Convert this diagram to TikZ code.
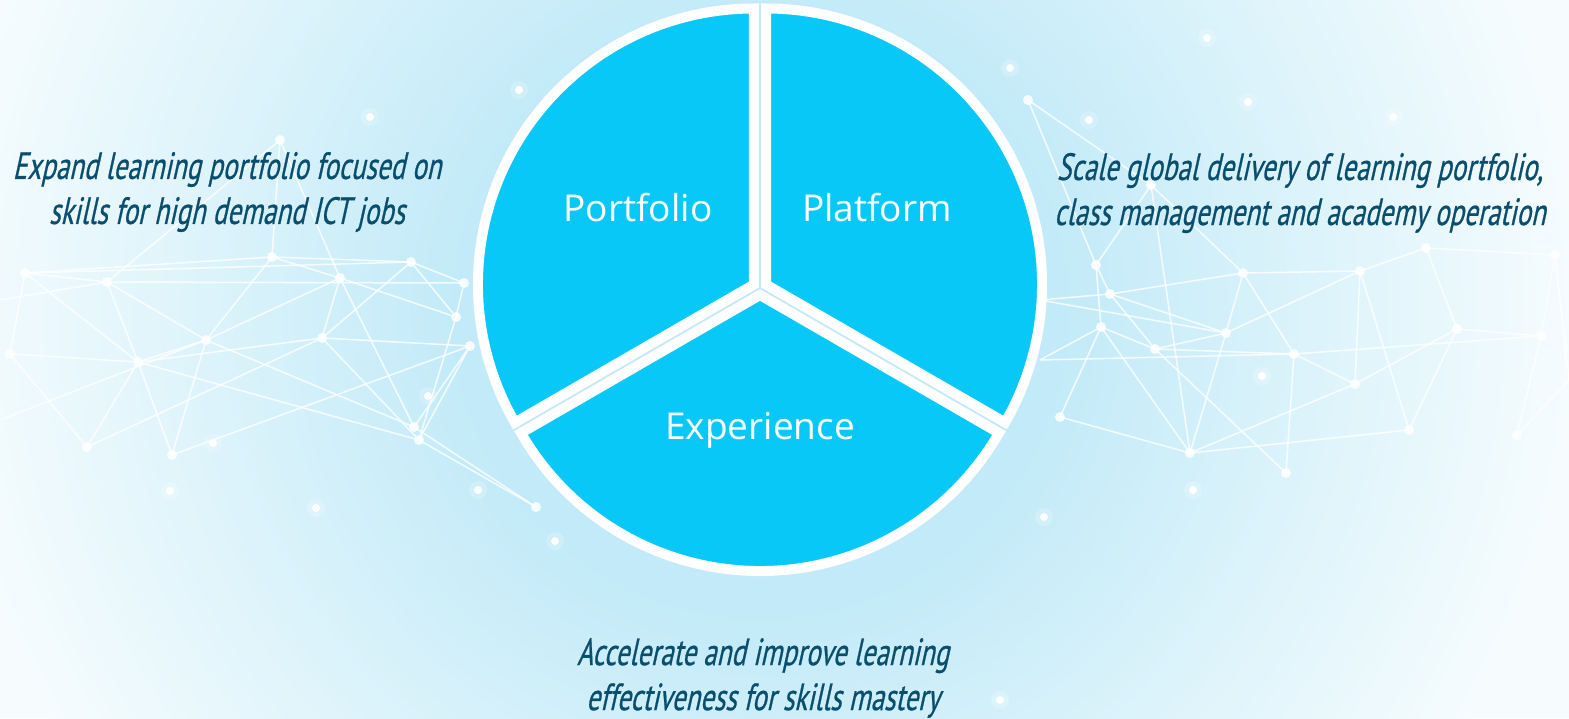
\documentclass[tikz,border=0pt]{standalone}
\usepackage{fontspec}
\newfontfamily\labelfont{Open Sans}
\newfontfamily\agency[FakeStretch=0.71,FakeSlant=0.22,FakeBold=0.6]{PT Sans}
\definecolor{bgin}{RGB}{194,234,248}
\definecolor{bgmid}{RGB}{214,241,250}
\definecolor{bgout}{RGB}{246,252,254}
\definecolor{pieblue}{RGB}{8,200,248}
\definecolor{txtblue}{RGB}{10,78,110}
\pgfdeclareradialshading{bgshade}{\pgfpoint{0bp}{0bp}}{color(0bp)=(bgin); color(9bp)=(bgin); color(15bp)=(bgmid); color(25bp)=(bgout); color(50bp)=(bgout)}
\tikzset{
  slice/.style={fill=pieblue, draw=white, line width=10pt, line join=miter},
  meshline/.style={draw=white, line width=1.5pt, opacity=0.8},
  meshdot/.style={fill=white, opacity=0.85},
  glowdot/.style={fill=white, opacity=0.95},
  glowhalo/.style={fill=white, opacity=0.2},
  lbl/.style={text=white, font=\labelfont\fontsize{37}{44}\selectfont},
  note/.style={text=txtblue, align=center, font=\agency\fontsize{38}{45}\selectfont}
}
\begin{document}
\begin{tikzpicture}[x=1pt,y=-1pt]
\useasboundingbox (0,0) rectangle (1569,718);
\begin{scope}
\clip (0,0) rectangle (1569,718);
\fill[bgout] (0,0) rectangle (1569,718);
\shade[shading=bgshade] (760,310) circle (820);
% left mesh
\coordinate (L1) at (25,273); \coordinate (L2) at (107,282); \coordinate (L3) at (10,354);
\coordinate (L4) at (138,362); \coordinate (L5) at (206,340); \coordinate (L6) at (272,257);
\coordinate (L7) at (340,278); \coordinate (L8) at (322,338); \coordinate (L9) at (411,262);
\coordinate (L10) at (464,283); \coordinate (L11) at (456,317); \coordinate (L12) at (470,346);
\coordinate (L13) at (414,427); \coordinate (L14) at (419,440); \coordinate (L15) at (87,447);
\coordinate (L16) at (172,455); \coordinate (L17) at (280,140); \coordinate (L18) at (536,507);
\coordinate (L19) at (0,300); \coordinate (L20) at (0,420);
\foreach \a/\b in {L1/L2,L1/L4,L1/L6,L1/L9,L2/L5,L2/L4,L3/L4,L3/L15,L4/L15,L4/L16,L4/L8,L4/L5,
  L5/L6,L5/L7,L5/L13,L5/L16,L6/L7,L6/L9,L7/L8,L7/L13,L7/L11,L8/L9,L8/L12,L8/L14,L8/L15,
  L9/L10,L9/L11,L11/L10,L11/L14,L12/L14,L4/L14,L2/L10,L12/L13,L16/L12,L17/L6,L17/L2,L17/L7,
  L14/L18,L13/L18,L19/L2,L20/L5,L3/L1}
  \draw[meshline] (\a) -- (\b);
\foreach \p in {L1,L2,L3,L4,L5,L6,L7,L8,L9,L10,L11,L12,L13,L14,L15,L16,L17,L18}
  \fill[meshdot] (\p) circle (5);
% right mesh
\coordinate (R1) at (1096,265); \coordinate (R2) at (1110,294); \coordinate (R3) at (1101,327);
\coordinate (R4) at (1155,349); \coordinate (R5) at (1226,333); \coordinate (R6) at (1243,273);
\coordinate (R7) at (1294,354); \coordinate (R8) at (1360,271); \coordinate (R9) at (1426,248);
\coordinate (R10) at (1457,329); \coordinate (R11) at (1541,336); \coordinate (R12) at (1555,255);
\coordinate (R13) at (1355,384); \coordinate (R14) at (1409,430); \coordinate (R15) at (1517,435);
\coordinate (R16) at (1190,453); \coordinate (R17) at (1286,473); \coordinate (R18) at (1060,417);
\coordinate (R19) at (1028,100); \coordinate (R20) at (1151,185); \coordinate (R21) at (1569,380);
\coordinate (R22) at (1040,300); \coordinate (R23) at (1040,360);
\foreach \a/\b in {R1/R2,R1/R3,R2/R5,R2/R4,R2/R6,R3/R4,R3/R16,R3/R18,R4/R5,R4/R17,R5/R6,R5/R16,
  R5/R8,R6/R7,R6/R8,R7/R13,R7/R17,R8/R9,R8/R13,R8/R14,R9/R10,R9/R12,R10/R11,R10/R13,R10/R14,
  R11/R12,R11/R15,R14/R16,R16/R18,R20/R6,R20/R16,R20/R1,R19/R20,R19/R1,R7/R11,R4/R7,R12/R21,
  R22/R2,R23/R3,R22/R5,R23/R7,R15/R21,R13/R16}
  \draw[meshline] (\a) -- (\b);
\foreach \p in {R1,R2,R3,R4,R5,R6,R7,R8,R9,R10,R11,R12,R13,R14,R15,R16,R17,R18,R19,R20}
  \fill[meshdot] (\p) circle (5);
% sparkles
\foreach \p in {(370,117),(519,90),(1010,68),(1089,120),(1248,102),(1393,117),(1262,376),
  (1193,490),(1044,517),(478,490),(213,443),(316,508),(555,541),(170,491),(428,396),(1207,38),(1000,700)}
  {\fill[glowhalo] \p circle (9); \fill[glowdot] \p circle (4);}
\end{scope}
% pie
\begin{scope}[shift={(760,288)}]
  \path[slice, shift={(-150:7)}] (0,0) -- (-90:276) arc[start angle=-90, end angle=-210, radius=276] -- cycle;
  \path[slice, shift={(-30:7)}] (0,0) -- (-90:276) arc[start angle=-90, end angle=30, radius=276] -- cycle;
  \path[slice, shift={(90:7)}] (0,0) -- (-210:276) arc[start angle=-210, end angle=-330, radius=276] -- cycle;
\end{scope}
\node[lbl] (portfolio) at (638,208) {Portfolio};
\node[lbl] (platform) at (877,208) {Platform};
\node[lbl] (experience) at (760,430) {Experience};
\node[note] (left) at (227,192) {Expand learning portfolio focused on\\skills for high demand ICT jobs};
\node[note] (right) at (1300,193) {Scale global delivery of learning portfolio,\\class management and academy operation};
\node[note] (bottom) at (763,678) {Accelerate and improve learning\\effectiveness for skills mastery};
\end{tikzpicture}
\end{document}
